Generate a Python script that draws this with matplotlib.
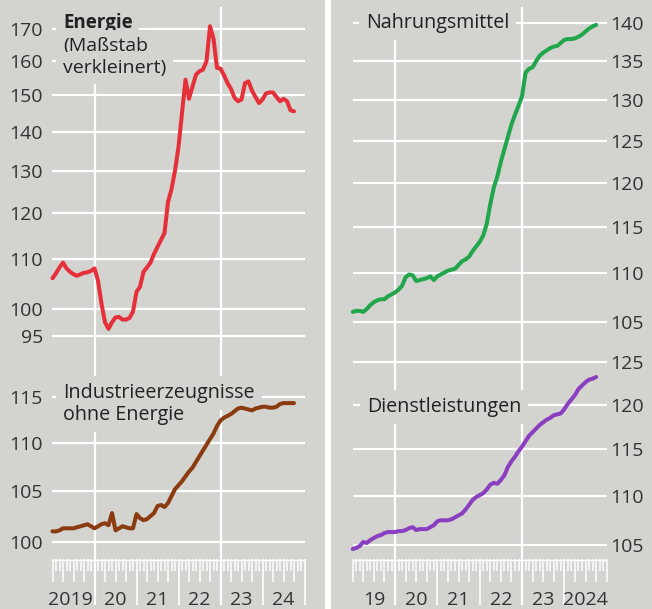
import numpy as np
import matplotlib
matplotlib.use('Agg')
import matplotlib.pyplot as plt
from matplotlib.patches import Rectangle
from matplotlib.ticker import FixedLocator, NullLocator, FixedFormatter

plt.rcParams['font.family'] = ['Open Sans', 'DejaVu Sans']

# ---------------- data (monthly, Jan 2019 .. Oct 2024) ----------------
start_year = 2019
energie = [106.0, 107.0, 108.2, 109.2, 108.0, 107.3, 106.8, 106.5, 106.8, 107.1,
           107.2, 107.5, 108.0, 105.5, 101.0, 97.5, 96.3, 97.5, 98.4, 98.5,
           98.0, 98.0, 98.3, 99.5, 103.3, 104.3, 107.3, 108.2, 109.2, 111.0,
           112.5, 114.0, 115.5, 122.5, 125.5, 130.0, 136.0, 145.0, 154.5, 149.0,
           152.5, 156.0, 157.0, 157.5, 160.0, 171.0, 167.0, 158.0, 157.8, 155.8,
           153.5, 151.8, 149.3, 148.3, 148.8, 153.5, 154.0, 151.3, 149.5, 147.8,
           148.8, 150.5, 150.8, 150.8, 149.5, 148.3, 149.0, 148.3, 145.8, 145.5]
industrie = [101.0, 101.0, 101.1, 101.3, 101.3, 101.3, 101.3, 101.4, 101.5, 101.6,
             101.7, 101.5, 101.3, 101.5, 101.7, 101.8, 101.6, 102.8, 101.1, 101.3,
             101.5, 101.4, 101.3, 101.3, 102.7, 102.3, 102.1, 102.2, 102.5, 102.8,
             103.5, 103.6, 103.4, 103.8, 104.5, 105.2, 105.6, 106.0, 106.5, 107.0,
             107.4, 108.0, 108.6, 109.2, 109.8, 110.4, 111.0, 111.8, 112.4, 112.7,
             112.9, 113.1, 113.4, 113.7, 113.8, 113.7, 113.6, 113.5, 113.7, 113.8,
             113.9, 113.9, 113.8, 113.8, 113.9, 114.2, 114.3, 114.3, 114.3, 114.3]
nahrungsmittel = [106.0, 106.1, 106.1, 106.0, 106.3, 106.7, 107.0, 107.2, 107.3, 107.3,
                  107.6, 107.8, 108.0, 108.3, 108.7, 109.6, 109.9, 109.8, 109.2, 109.3,
                  109.4, 109.5, 109.7, 109.3, 109.7, 109.9, 110.1, 110.3, 110.4, 110.5,
                  110.9, 111.3, 111.5, 111.8, 112.4, 112.9, 113.4, 114.1, 115.4, 117.6,
                  119.5, 120.8, 122.5, 124.0, 125.5, 127.0, 128.2, 129.3, 130.5, 133.5,
                  134.0, 134.2, 135.0, 135.7, 136.1, 136.4, 136.7, 136.9, 137.0, 137.4,
                  137.8, 137.9, 137.9, 138.0, 138.2, 138.5, 138.9, 139.3, 139.6, 139.8]
dienstleistungen = [104.6, 104.7, 104.9, 105.3, 105.2, 105.5, 105.7, 105.9, 106.0, 106.2,
                    106.3, 106.3, 106.3, 106.4, 106.4, 106.5, 106.7, 106.8, 106.5, 106.6,
                    106.6, 106.6, 106.8, 107.0, 107.4, 107.5, 107.5, 107.5, 107.6, 107.8,
                    108.0, 108.2, 108.6, 109.1, 109.6, 109.9, 110.1, 110.3, 110.7, 111.2,
                    111.4, 111.3, 111.7, 112.2, 113.1, 113.7, 114.2, 114.8, 115.3, 115.9,
                    116.5, 116.9, 117.3, 117.7, 118.0, 118.3, 118.5, 118.8, 118.9, 119.0,
                    119.5, 120.1, 120.6, 121.1, 121.8, 122.2, 122.6, 122.9, 123.0, 123.2]
year_labels_left = ['2019', '20', '21', '22', '23', '24']
year_labels_right = ['19', '20', '21', '22', '23', '2024']
ticks_energie = [95, 100, 110, 120, 130, 140, 150, 160, 170]
ticks_industrie = [100, 105, 110, 115]
ticks_nahrung = [105, 110, 115, 120, 125, 130, 135, 140]
ticks_dienst = [105, 110, 115, 120, 125]

# ---------------- figure ----------------
W, H = 652, 609
BG = '#d3d3d0'
TXT = '#222222'
fig = plt.figure(figsize=(W / 100, H / 100), dpi=100, facecolor=BG)
fig.add_artist(Rectangle((325 / W, 0), 6 / W, 1, transform=fig.transFigure,
                         facecolor='white', edgecolor='none', zorder=0))

# pixel reference frame (invisible) used to place titles
px = fig.add_axes([0, 0, 1, 1])
px.set_xlim(0, W)
px.set_ylim(H, 0)
px.axis('off')


def add_ax(x0, y0, x1, y1):
    return fig.add_axes([x0 / W, 1 - y1 / H, (x1 - x0) / W, (y1 - y0) / H])


def panel(x0, y0, x1, y1, ref_v, ref_y, k, ticks, side, data, color):
    ax = add_ax(x0, y0, x1, y1)
    ax.set_facecolor('none')
    for s in ax.spines.values():
        s.set_visible(False)
    ax.set_yscale('log')
    vtop = ref_v * np.exp((ref_y - y0) / k)
    vbot = ref_v * np.exp((ref_y - y1) / k)
    ax.set_ylim(vbot, vtop)
    ax.set_xlim(start_year, start_year + 6)
    ax.yaxis.set_major_locator(FixedLocator(ticks))
    ax.yaxis.set_minor_locator(NullLocator())
    ax.yaxis.set_major_formatter(FixedFormatter([str(t) for t in ticks]))
    ax.set_xticks([])
    ax.grid(axis='y', color='white', lw=1.6)
    ax.set_axisbelow(True)
    for yr in (2020, 2023):
        ax.axvline(yr, color='white', lw=1.6, zorder=1)
    if side == 'right':
        ax.yaxis.tick_right()
        ax.tick_params(axis='y', length=0, pad=2.4, labelsize=14, labelcolor='#333333')
    else:
        ax.tick_params(axis='y', length=0, pad=6.8, labelsize=14, labelcolor='#333333')
    x = start_year + np.arange(len(data)) / 12
    ax.plot(x, data, color=color, lw=2.9, solid_joinstyle='round',
            solid_capstyle='round', clip_on=False, zorder=4)
    return ax


LX0, LX1 = 52.5, 304.5
RX0, RX1 = 352.7, 606.7
ax_e = panel(LX0, 7, LX1, 365, 170, 29.3, 527, ticks_energie, 'left', energie, '#e5303a')
ax_i = panel(LX0, 365, LX1, 559, 100, 541.7, 1037, ticks_industrie, 'left', industrie, '#8a3b0f')
ax_n = panel(RX0, 7, RX1, 342, 105, 321.7, 1037, ticks_nahrung, 'right', nahrungsmittel, '#22a64b')
ax_d = panel(RX0, 342, RX1, 559, 105, 545.0, 1051, ticks_dienst, 'right', dienstleistungen, '#8a3fc0')


def tick_strip(x0, x1, labels, end_long):
    ax = add_ax(x0, 559, x1, 609)
    ax.set_xlim(start_year, start_year + 6)
    ax.set_ylim(50, 0)
    ax.axis('off')
    ax.axhline(0.5, color='white', lw=1.0)
    for m in range(0, 73):
        xm = start_year + m / 12
        if m % 12 == 0 and 0 < m < 72:
            ln, lw = 46, 1.6 if (start_year + m // 12) in (2020, 2023) else 1.2
        elif m == 72 and end_long:
            ln, lw = 46, 1.2
        elif m % 3 == 0:
            ln, lw = 23, 1.1
        else:
            ln, lw = 12, 1.1
        ax.plot([xm, xm], [0, ln], color='white', lw=lw, solid_capstyle='butt', clip_on=False)
    for i, lab in enumerate(labels):
        if i == 0 and len(lab) == 4:
            ax.text(start_year + 1 - 0.05, 46, lab, ha='right', va='baseline',
                    fontsize=14, color='#333333')
        else:
            ax.text(start_year + i + 0.5, 46, lab, ha='center', va='baseline',
                    fontsize=14, color='#333333')


tick_strip(LX0, LX1, year_labels_left, True)
tick_strip(RX0, RX1, year_labels_right, False)

# ---------------- titles (boxes hide grid, lines stay on top) ----------------
box = dict(boxstyle='square,pad=0.35', facecolor=BG, edgecolor='none')


def title(ax, x, y, s, size=14.2, weight='normal'):
    ax.text(x, y, s, transform=px.transData, fontsize=size, fontweight=weight,
            color=TXT, va='baseline', bbox=box, zorder=3, clip_on=False)


title(ax_e, 63, 28, 'Energie', 13.5, 'bold')
title(ax_e, 63, 51, '(Maßstab', 14)
title(ax_e, 63, 73, 'verkleinert)', 14)
title(ax_i, 63, 398, 'Industrieerzeugnisse')
title(ax_i, 63, 420, 'ohne Energie')
title(ax_n, 366, 28, 'Nahrungsmittel')
title(ax_d, 367, 412, 'Dienstleistungen')

fig.savefig('out.png', dpi=100, facecolor=BG)
